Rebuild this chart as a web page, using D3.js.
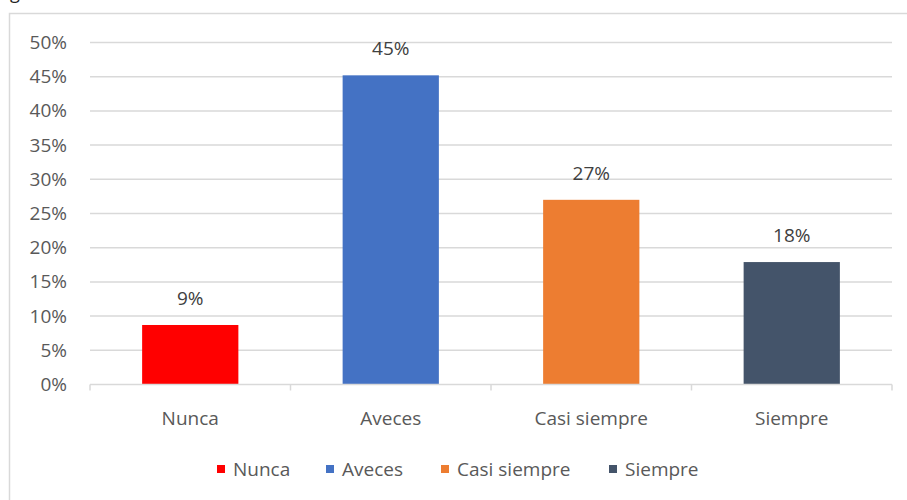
<!DOCTYPE html>
<html>
<head>
<meta charset="utf-8">
<script src="https://cdn.jsdelivr.net/npm/d3@7"></script>
<style>
  body { margin: 0; background: #fff; }
  svg text { font-family: "Open Sans", Lato, sans-serif; fill: #595959; }
</style>
</head>
<body>
<div id="chart"></div>
<script>
'use strict';

// chart data
var categories = ['Nunca', 'Aveces', 'Casi siempre', 'Siempre'];
var values = [8.7, 45.2, 27.0, 17.9];
var valueLabels = ['9%', '45%', '27%', '18%'];
var colors = ['#FF0000', '#4472C4', '#ED7D31', '#44546A'];
var yTicks = [0, 5, 10, 15, 20, 25, 30, 35, 40, 45, 50];

var W = 907, H = 500;
var FONT = '"Open Sans", Lato, sans-serif';
var margin = {top: 42.5, right: 15, bottom: 115.5, left: 90},
    width = W - margin.left - margin.right,
    height = H - margin.top - margin.bottom;

var svg = d3.select('#chart')
  .append('svg')
    .attr('width', W)
    .attr('height', H);

// cut-off caption glyph above the chart box
svg.append('text')
    .attr('x', 10)
    .attr('y', -1)
    .style('font-size', '18px')
    .style('fill', '#222')
    .text('g');

// chart border
svg.append('rect')
    .attr('x', 9.5)
    .attr('y', 13.5)
    .attr('width', 910)
    .attr('height', 500)
    .attr('fill', 'none')
    .attr('stroke', '#D9D9D9')
    .attr('stroke-width', 1.5);

var g = svg.append('g')
    .attr('transform', 'translate(' + margin.left + ',' + margin.top + ')');

var x = d3.scaleBand().domain(categories).range([0, width]).paddingInner(0.52).paddingOuter(0.26);
var xBand = d3.scaleBand().domain(categories).range([0, width]);
var y = d3.scaleLinear().domain([0, 50]).range([height, 0]);

// gridlines
g.append('g')
    .selectAll('line')
    .data(yTicks.slice(1))
    .enter().append('line')
      .attr('x1', 0)
      .attr('x2', width)
      .attr('y1', function(d) { return y(d); })
      .attr('y2', function(d) { return y(d); })
      .attr('stroke', '#D9D9D9')
      .attr('stroke-width', 1.5);

// y axis labels
var yAxis = g.append('g')
    .call(d3.axisLeft(y).tickValues(yTicks).tickFormat(function(d) { return d + '%'; }).tickSize(0).tickPadding(23));
yAxis.select('.domain').remove();
yAxis.selectAll('text')
    .style('font-size', '19px')
    .style('fill', '#595959')
    .style('font-family', FONT);

// bars
g.selectAll('.bar')
    .data(values)
    .enter().append('rect')
      .attr('class', 'bar')
      .attr('x', function(d, i) { return x(categories[i]); })
      .attr('width', x.bandwidth())
      .attr('y', function(d) { return y(d); })
      .attr('height', function(d) { return height - y(d); })
      .attr('fill', function(d, i) { return colors[i]; });

// value labels
g.selectAll('.vlabel')
    .data(values)
    .enter().append('text')
      .attr('class', 'vlabel')
      .attr('x', function(d, i) { return x(categories[i]) + x.bandwidth() / 2; })
      .attr('y', function(d) { return y(d) - 20; })
      .attr('text-anchor', 'middle')
      .style('font-size', '19px')
      .style('fill', '#404040')
      .text(function(d, i) { return valueLabels[i]; });

// x axis with tick marks at category boundaries
var xAxis = g.append('g')
    .attr('transform', 'translate(0,' + height + ')');
xAxis.append('line')
    .attr('x1', 0).attr('x2', width)
    .attr('stroke', '#D9D9D9')
    .attr('stroke-width', 1.5);
xAxis.selectAll('.xtick')
    .data(categories.concat(['end']))
    .enter().append('line')
      .attr('x1', function(d, i) { return i < categories.length ? xBand(d) : width; })
      .attr('x2', function(d, i) { return i < categories.length ? xBand(d) : width; })
      .attr('y1', 0).attr('y2', 6)
      .attr('stroke', '#D9D9D9')
      .attr('stroke-width', 1.5);
xAxis.selectAll('.xlabel')
    .data(categories)
    .enter().append('text')
      .attr('x', function(d) { return xBand(d) + xBand.bandwidth() / 2; })
      .attr('y', 40)
      .attr('text-anchor', 'middle')
      .style('font-size', '19px')
      .text(function(d) { return d; });

// legend
var legendX = [217, 326, 441, 609];
var legend = svg.append('g');
legend.selectAll('rect')
    .data(categories)
    .enter().append('rect')
      .attr('x', function(d, i) { return legendX[i]; })
      .attr('y', 465)
      .attr('width', 8)
      .attr('height', 8)
      .attr('fill', function(d, i) { return colors[i]; });
legend.selectAll('text')
    .data(categories)
    .enter().append('text')
      .attr('x', function(d, i) { return legendX[i] + 16; })
      .attr('y', 476)
      .style('font-size', '19px')
      .text(function(d) { return d; });
</script>
</body>
</html>
